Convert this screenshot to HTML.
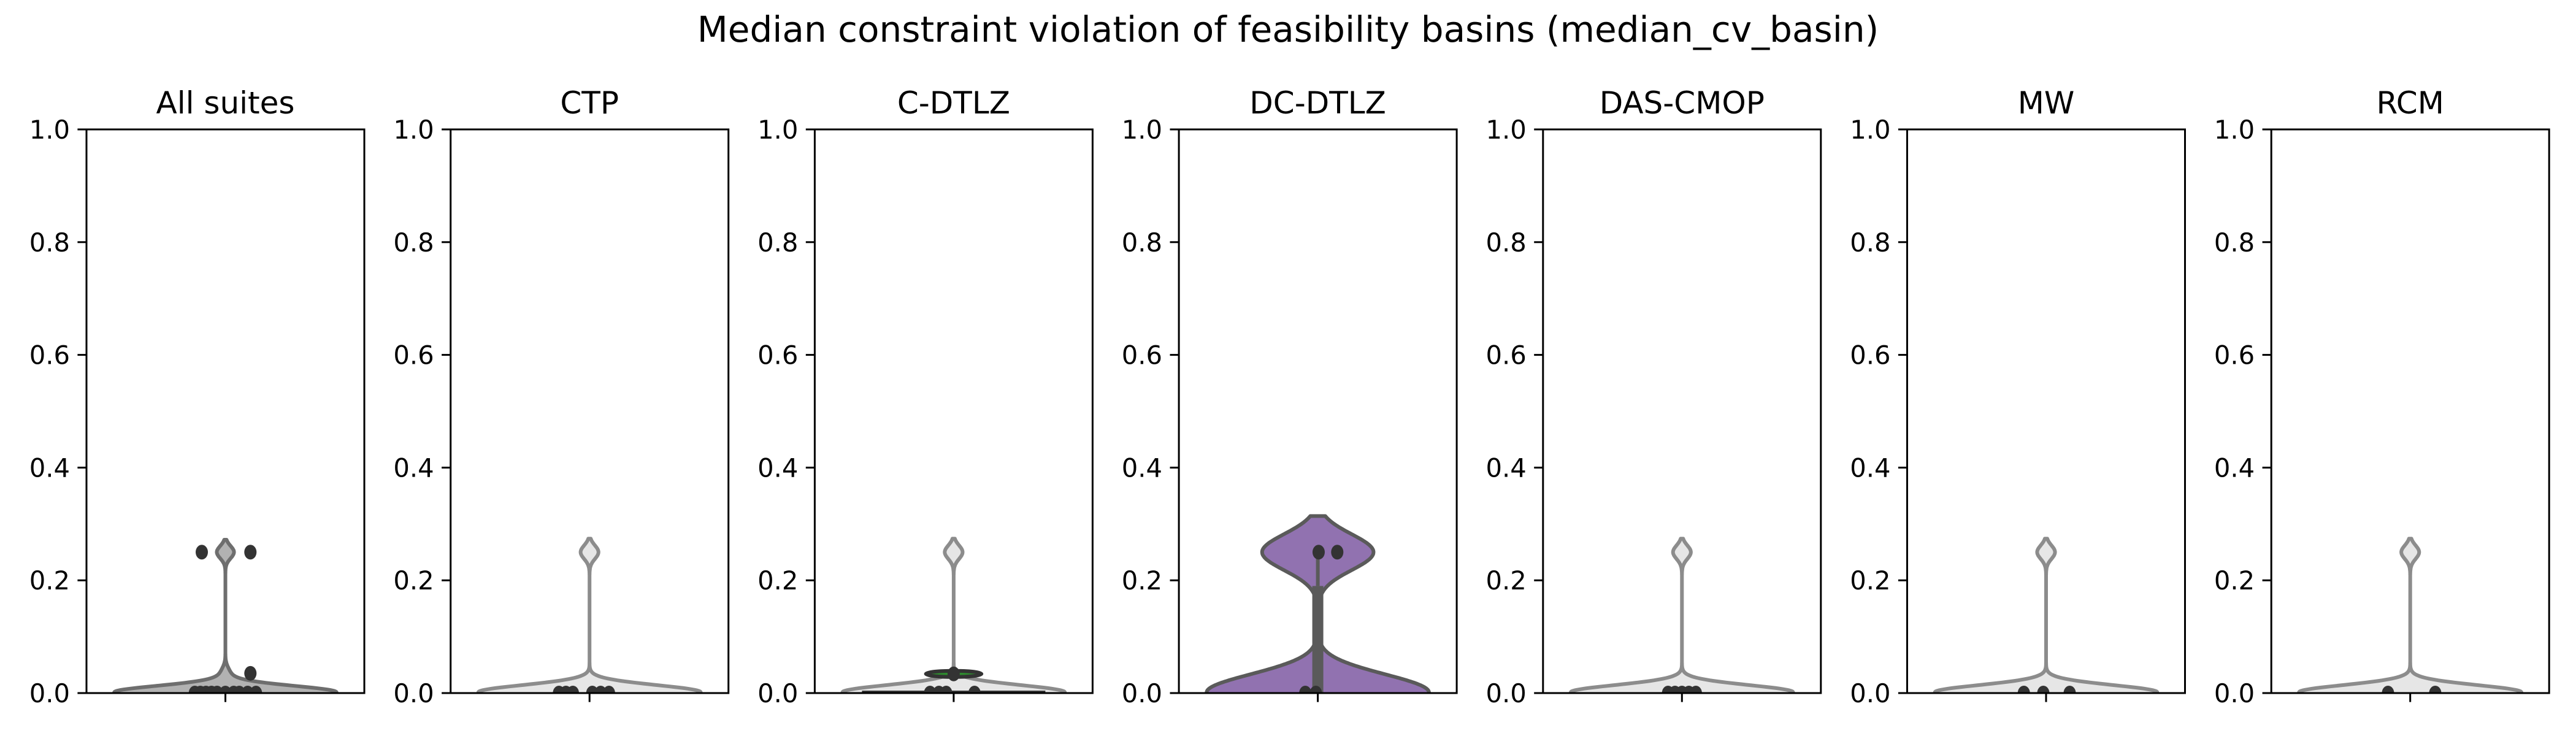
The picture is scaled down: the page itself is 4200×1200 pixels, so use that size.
<!DOCTYPE html>
<html><head><meta charset="utf-8">
<style>
html,body{margin:0;padding:0;background:#fff;}
svg{display:block;font-family:"DejaVu Sans","Liberation Sans",sans-serif;}
</style></head>
<body>
<svg id="chart" width="4200" height="1200" viewBox="0 0 4200 1200" xmlns="http://www.w3.org/2000/svg">
<rect width="4200" height="1200" fill="#fff"/>
<text x="2100" y="68" text-anchor="middle" font-size="58" fill="#000">Median constraint violation of feasibility basins (median_cv_basin)</text>
</svg>
<script>
// ---- data ----
const panelTitles = ["All suites","CTP","C-DTLZ","DC-DTLZ","DAS-CMOP","MW","RCM"];
const yTicks = [0.0,0.2,0.4,0.6,0.8,1.0];
const yTickLabels = ["0.0","0.2","0.4","0.6","0.8","1.0"];
const violinAll = [0,0,0,0,0,0,0,0,0,0,0,0,0,0,0,0,0,0,0,0,0.003,0.003,0.005,0.006,0.008,0.01,0.012,0.035,0.25,0.25];
const violinCTP = [0,0,0,0,0,0,0,0,0,0,0.004,0.008,0.012,0.25];
const violinCDTLZ = [0,0,0,0,0,0,0,0,0,0,0.004,0.008,0.012,0.25];
const violinDCDTLZ = [0,0,0,0.005,0.25,0.25];
const violinDAS = [0,0,0,0,0,0,0,0,0,0,0.004,0.008,0.012,0.25];
const violinMW = [0,0,0,0,0,0,0,0,0,0,0.004,0.008,0.012,0.25];
const violinRCM = [0,0,0,0,0,0,0,0,0,0,0.004,0.008,0.012,0.25];
const violinValues = [violinAll,violinCTP,violinCDTLZ,violinDCDTLZ,violinDAS,violinMW,violinRCM];
const kdeBandwidth = [0.011,0.012,0.012,0.032,0.012,0.012,0.012];
// strip points: values and jitter (category units)
const pointsAllY = [0.25,0.25,0.035,0,0,0,0,0,0,0,0,0,0];
const pointsAllJ = [-0.085,0.09,0.09,-0.11,-0.09,-0.07,-0.05,-0.03,0.0,0.03,0.05,0.08,0.11];
const pointsCTPY = [0,0,0,0,0,0];
const pointsCTPJ = [-0.11,-0.085,-0.06,0.01,0.04,0.07];
const pointsCDY = [0.034,0,0,0,0];
const pointsCDJ = [0,-0.085,-0.053,-0.027,0.075];
const pointsDCY = [0.25,0.25,0,0];
const pointsDCJ = [0.003,0.07,-0.045,-0.007];
const pointsDASY = [0,0,0,0,0];
const pointsDASJ = [-0.05,-0.025,0,0.025,0.05];
const pointsMWY = [0,0,0];
const pointsMWJ = [-0.08,-0.01,0.085];
const pointsRCMY = [0,0];
const pointsRCMJ = [-0.08,0.09];
const pointYs = [pointsAllY,pointsCTPY,pointsCDY,pointsDCY,pointsDASY,pointsMWY,pointsRCMY];
const pointJs = [pointsAllJ,pointsCTPJ,pointsCDJ,pointsDCJ,pointsDASJ,pointsMWJ,pointsRCMJ];
// box stats for DC-DTLZ
const dcBoxQ1 = 0.0, dcBoxQ3 = 0.19, dcWhiskerHi = 0.25;
// secondary lens in C-DTLZ
const cdLensValue = 0.034;

// ---- layout ----
const fills = ["#b2b2b2","#e6e6e6","#e6e6e6","#9172b0","#e6e6e6","#e6e6e6","#e6e6e6"];
const strokes = ["#6e6e6e","#8c8c8c","#8c8c8c","#5a5a5a","#8c8c8c","#8c8c8c","#8c8c8c"];
const svg = document.getElementById('chart');
const NS = "http://www.w3.org/2000/svg";
const axL0 = 141, axStep = 593.7, axW = 453, axTop = 211, axBot = 1130;
function mk(tag, attrs, parent){ const e=document.createElementNS(NS,tag); for(const k in attrs) e.setAttribute(k,attrs[k]); (parent||svg).appendChild(e); return e; }
const defs = mk('defs',{});

panelTitles.forEach((title,i)=>{
  const left = axL0 + i*axStep;
  const yS = v => axBot - v*(axBot-axTop);
  const xS = c => left + axW/2 + c*axW;
  const g = mk('g',{});
  
  
  const cp = mk('clipPath',{id:'clip'+i},defs);
  mk('rect',{x:left,y:axTop,width:axW,height:axBot-axTop},cp);
  const plot = mk('g',{'clip-path':'url(#clip'+i+')'},g);
  
  

  const vals = violinValues[i], bw = kdeBandwidth[i];
  const lo = Math.min(...vals) - 2*bw, hi = Math.max(...vals) + 2*bw;
  const N = 300, ys=[], ds=[];
  for(let k=0;k<=N;k++){ const y=lo+(hi-lo)*k/N; let d=0; vals.forEach(v=>{d+=Math.exp(-0.5*((y-v)/bw)**2);}); ys.push(y); ds.push(d); }
  const dmax = Math.max(...ds);
  let right=[], leftS=[];
  ys.forEach((y,k)=>{ const w = ds[k]/dmax*0.4; right.push(xS(w).toFixed(1)+','+yS(y).toFixed(1)); leftS.push(xS(-w).toFixed(1)+','+yS(y).toFixed(1)); });
  const violin = mk('polygon',{points: right.concat(leftS.reverse()).join(' '), fill:fills[i], stroke:strokes[i], 'stroke-width':6, 'stroke-linejoin':'round'},plot);
  
  

  if(i===2){
    const lens = mk('ellipse',{cx:xS(0),cy:yS(cdLensValue),rx:0.1*axW,ry:5,fill:'#2e8b2e',stroke:'#333',"stroke-width":6},plot);
    
    
    const base = mk('rect',{x:xS(-0.33),y:yS(0)-4,width:0.66*axW,height:4,fill:'#333'},plot);
    
    
  }
  if(i===3){
    const wh = mk('line',{x1:xS(0),x2:xS(0),y1:yS(dcBoxQ3),y2:yS(dcWhiskerHi),stroke:'#5a5a5a','stroke-width':6},plot);
    
    
    const bx = mk('rect',{x:xS(0)-9,y:yS(dcBoxQ3),width:18,height:yS(dcBoxQ1)-yS(dcBoxQ3),fill:'#5a5a5a'},plot);
    
    
  }
  pointYs[i].forEach((v,k)=>{
    const c = mk('ellipse',{cx:xS(pointJs[i][k]),cy:yS(v),rx:10,ry:12,fill:'#333333'},plot);
    
    
  });

  const fr = mk('rect',{x:left,y:axTop,width:axW,height:axBot-axTop,fill:'none',stroke:'#000','stroke-width':3},g);
  
  
  yTicks.forEach((t,k)=>{
    const tk = mk('line',{x1:left-14.6,x2:left,y1:yS(t),y2:yS(t),stroke:'#000','stroke-width':3},g);
    
    
    const lb = mk('text',{x:left-27,y:yS(t)+15,'text-anchor':'end','font-size':41.7,fill:'#000'},g);
    lb.textContent = yTickLabels[k];
    
    
  });
  const xt = mk('line',{x1:xS(0),x2:xS(0),y1:axBot,y2:axBot+14.6,stroke:'#000','stroke-width':3},g);
  
  
  const tt = mk('text',{x:left+axW/2,y:185,'text-anchor':'middle','font-size':50,fill:'#000'},g);
  tt.textContent = title;
  
  
});
</script>
</body></html>
